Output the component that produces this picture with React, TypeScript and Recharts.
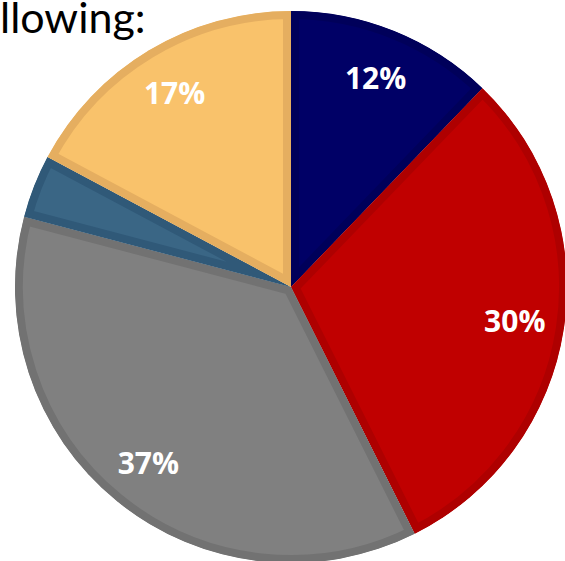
import React from 'react';
import { PieChart, Pie, Sector } from 'recharts';

const categories = ['A', 'B', 'C', 'D', 'E'];
const values = [12.2, 30.4, 36.5, 3.7, 17.2];
const labels = ['12%', '30%', '37%', '', '17%'];

const fills = ['#000066', '#C00000', '#808080', '#3A6685', '#F9C26B'];
const borders = ['#00005A', '#AE0000', '#727272', '#305978', '#E5AE60'];

const data = categories.map((name, i) => ({ name, value: values[i], label: labels[i], idx: i }));

const RAD = Math.PI / 180;

const renderShape = (props: any) => {
  const { cx, cy, innerRadius, outerRadius, startAngle, endAngle, payload } = props;
  const i = payload?.idx ?? props.index ?? 0;
  const id = `clip-slice-${i}`;
  return (
    <g>
      <defs>
        <clipPath id={id}>
          <Sector cx={cx} cy={cy} innerRadius={innerRadius} outerRadius={outerRadius} startAngle={startAngle} endAngle={endAngle} />
        </clipPath>
      </defs>
      <Sector
        cx={cx}
        cy={cy}
        innerRadius={innerRadius}
        outerRadius={outerRadius}
        startAngle={startAngle}
        endAngle={endAngle}
        fill={fills[i]}
        stroke={borders[i]}
        strokeWidth={16}
        clipPath={`url(#${id})`}
      />
    </g>
  );
};

const renderLabel = (props: any) => {
  const { cx, cy, midAngle, outerRadius, payload } = props;
  const text = payload?.label ?? '';
  if (!text) return null;
  const r = outerRadius * 0.82;
  const x = cx + r * Math.cos(-midAngle * RAD);
  const y = cy + r * Math.sin(-midAngle * RAD);
  return (
    <text
      x={x}
      y={y}
      fill="#FFFFFF"
      textAnchor="middle"
      dominantBaseline="central"
      fontFamily="'Open Sans', sans-serif"
      fontWeight={700}
      fontSize={30}
    >
      {text}
    </text>
  );
};

export default function App() {
  return (
    <div style={{ position: 'fixed', left: 0, top: 0, width: 565, height: 561, overflow: 'hidden', background: '#fff' }}>
      <div
        style={{
          position: 'absolute',
          left: 0,
          top: 0,
          fontFamily: "Lato, sans-serif",
          fontSize: 43,
          color: '#000',
          whiteSpace: 'nowrap',
          lineHeight: '34px',
          height: 44,
        }}
      >
        llowing:
      </div>
      <div style={{ position: 'absolute', left: 0, top: 0 }}>
        <PieChart width={565} height={561} margin={{ top: 0, right: 0, bottom: 0, left: 0 }}>
          <Pie
            data={data}
            dataKey="value"
            nameKey="name"
            cx={291}
            cy={287}
            outerRadius={276}
            startAngle={90}
            endAngle={-270}
            stroke="none"
            shape={renderShape}
            label={renderLabel}
            labelLine={false}
            isAnimationActive={false}
          />
        </PieChart>
      </div>
    </div>
  );
}
